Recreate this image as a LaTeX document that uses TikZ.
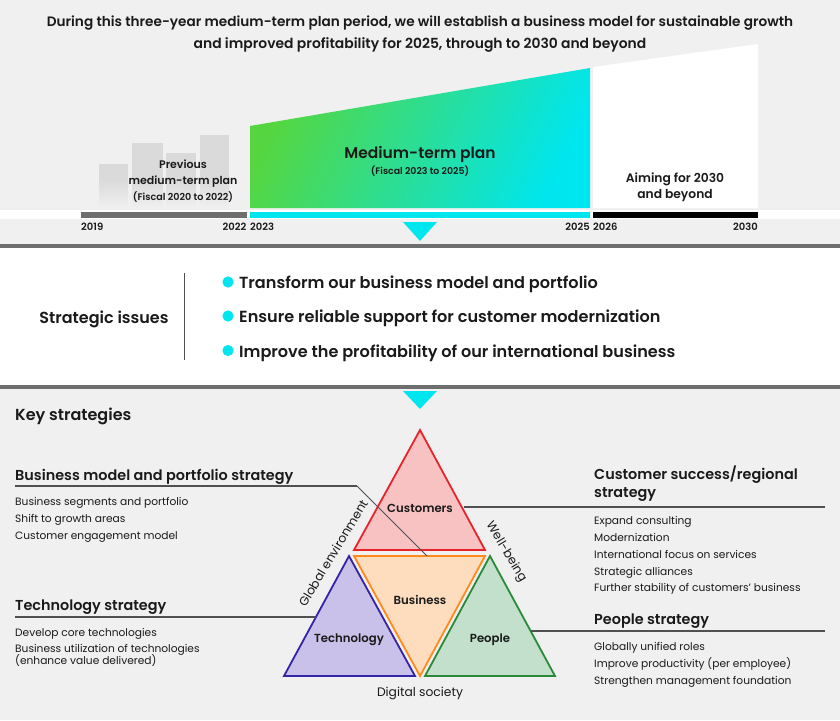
\documentclass[tikz,border=0pt]{standalone}
\usepackage{fontspec}
\setmainfont{Poppins}[BoldFont={Poppins SemiBold}]
\definecolor{bg}{HTML}{F0F0F0}
\definecolor{barg}{HTML}{DADADA}
\definecolor{mgreen}{HTML}{55D640}
\definecolor{mcyan}{HTML}{00E6EE}
\definecolor{dgray}{HTML}{6E6E6E}
\definecolor{lgray}{HTML}{505050}
\definecolor{custfill}{HTML}{F8C2C2}
\definecolor{custline}{HTML}{E8242A}
\definecolor{busfill}{HTML}{FDDDBE}
\definecolor{busline}{HTML}{FF8A1E}
\definecolor{techfill}{HTML}{C9C1EA}
\definecolor{techline}{HTML}{3424A8}
\definecolor{peopfill}{HTML}{C2E0CB}
\definecolor{peopline}{HTML}{2A8A3A}
\definecolor{txt}{HTML}{1A1A1A}
\begin{document}
\begin{tikzpicture}[x=1pt,y=-1pt,
  every node/.style={inner sep=0pt,text=txt},
  ttl/.style={font=\bfseries\fontsize{13.65}{16}\selectfont,anchor=base},
  lbl/.style={font=\bfseries\fontsize{12.3}{15}\selectfont,anchor=base},
  plbl/.style={font=\bfseries\fontsize{11}{13}\selectfont,anchor=base},
  trl/.style={font=\bfseries\fontsize{11.7}{14}\selectfont,anchor=base},
  yr/.style={font=\bfseries\fontsize{10}{12}\selectfont},
  issue/.style={font=\bfseries\fontsize{16.1}{19}\selectfont,anchor=base west},
  head/.style={font=\bfseries\fontsize{14.4}{17}\selectfont,anchor=base west},
  item/.style={font=\fontsize{10.65}{13}\selectfont,anchor=base west},
  tri/.style={line width=1.8pt,line join=miter},
  hline/.style={draw=lgray,line width=1.1pt},
  arrowtri/.style={fill=mcyan}]
\fill[bg] (0,0) rectangle (840,720);
\useasboundingbox (0,0) rectangle (840,720);

% title
\node[ttl] (t1) at (420,26) {During this three-year medium-term plan period, we will establish a business model for sustainable growth};
\node[ttl,font=\bfseries\fontsize{13.9}{16}\selectfont] (t2) at (420,48) {and improved profitability for 2025, through to 2030 and beyond};

% previous plan bars
\foreach \xa/\xb/\yt in {99/128/164, 132/163/143, 166/196/153, 200/229/135}{
  \fill[barg] (\xa,\yt) rectangle (\xb,180);
  \shade[top color=barg,bottom color=bg] (\xa,180) rectangle (\xb,208);
}
% gradient shape
\shade[left color=mgreen,right color=mcyan,shading angle=65]
  (250,208) -- (250,126) -- (590,68) -- (590,208) -- cycle;
% white shape
\fill[white] (593,208) -- (593,67) -- (758,44) -- (758,208) -- cycle;

% timeline
\fill[white] (0,210) rectangle (840,219);
\fill[dgray] (81,212) rectangle (246.5,218.3);
\fill[mcyan] (250,212) rectangle (590,218.3);
\fill[black] (593,212) rectangle (758,218.3);

\node[plbl] (p1) at (183,168.5) {Previous};
\node[plbl] (p2) at (183,184.5) {medium-term plan};
\node[font=\bfseries\fontsize{9.6}{11}\selectfont,anchor=base] (p3) at (183,200.5) {(Fiscal 2020 to 2022)};
\node[font=\bfseries\fontsize{15.5}{18}\selectfont,anchor=base] (m1) at (420,158.5) {Medium-term plan};
\node[font=\bfseries\fontsize{9.4}{11}\selectfont,anchor=base] (m2) at (420,174.5) {(Fiscal 2023 to 2025)};
\node[lbl] (a1) at (675,182.5) {Aiming for 2030};
\node[lbl] (a2) at (675,198.5) {and beyond};

\node[yr,anchor=base west] (y19) at (81,230.5) {2019};
\node[yr,anchor=base east] (y22) at (246.5,230.5) {2022};
\node[yr,anchor=base west] (y23) at (250,230.5) {2023};
\node[yr,anchor=base east] (y25) at (590,230.5) {2025};
\node[yr,anchor=base west] (y26) at (593,230.5) {2026};
\node[yr,anchor=base east] (y30) at (758,230.5) {2030};

% strategic issues band
\fill[white] (0,248) rectangle (840,385);
\fill[dgray] (0,244) rectangle (840,248);
\fill[dgray] (0,385) rectangle (840,389);
\fill[arrowtri] (403,222) -- (437,222) -- (420,241) -- cycle;
\fill[arrowtri] (403,391) -- (437,391) -- (420,409) -- cycle;

\node[font=\bfseries\fontsize{16}{19}\selectfont,anchor=base] (si) at (104,323.5) {Strategic issues};
\draw[lgray,line width=0.9pt] (184,273) -- (184,360);
\foreach \yy/\yb/\tx in {282/288.5/Transform our business model and portfolio,
                        316/322.5/Ensure reliable support for customer modernization,
                        350.5/357/Improve the profitability of our international business}{
  \fill[mcyan] (228,\yy) circle (5.6);
  \node[issue] at (239,\yb) {\tx};
}

% key strategies
\node[font=\bfseries\fontsize{16}{19}\selectfont,anchor=base west] (ks) at (15,420) {Key strategies};

% triangles
\coordinate (cA) at (420,430);
\coordinate (cL) at (354,550);
\coordinate (cR) at (485,550);
\coordinate (bL) at (354,556);
\coordinate (bR) at (485,556);
\coordinate (bB) at (420,676);
\coordinate (tA) at (349,556);
\coordinate (tL) at (284,676);
\coordinate (tR) at (415,676);
\coordinate (pA) at (490,556);
\coordinate (pL) at (425,676);
\coordinate (pR) at (555,676);
\filldraw[tri,fill=custfill,draw=custline] (cA) -- (cR) -- (cL) -- cycle;
\filldraw[tri,fill=busfill,draw=busline] (bL) -- (bR) -- (bB) -- cycle;
\filldraw[tri,fill=techfill,draw=techline] (tA) -- (tR) -- (tL) -- cycle;
\filldraw[tri,fill=peopfill,draw=peopline] (pA) -- (pR) -- (pL) -- cycle;

\node[trl] (cust) at (420,512.5) {Customers};
\node[trl] (bus) at (420,604.5) {Business};
\node[trl] (tech) at (349,642.5) {Technology};
\node[trl] (peop) at (490,642.5) {People};
\node[font=\fontsize{12.3}{15}\selectfont,anchor=base] (dig) at (420,696) {Digital society};
\node[font=\fontsize{12.3}{15}\selectfont,rotate=59] (glob) at (333,553) {Global environment};
\node[font=\fontsize{12.3}{15}\selectfont,rotate=-59] (well) at (506,552) {Well-being};

% left strategies
\node[head] (bmh) at (15,480) {Business model and portfolio strategy};
\coordinate (bmk) at (357,486);
\coordinate (bmt) at (427,556);
\draw[hline] (15,486) -- (bmk);
\draw[lgray,line width=0.8pt] (bmk) -- (bmt);
\node[item] at (15,505) {Business segments and portfolio};
\node[item] at (15,522) {Shift to growth areas};
\node[item] at (15,539) {Customer engagement model};

\node[head] (teh) at (15,610) {Technology strategy};
\coordinate (tek) at (316,617);
\draw[hline] (15,617) -- (tek);
\node[item] at (15,636) {Develop core technologies};
\node[item] at (15,652) {Business utilization of technologies};
\node[item] at (15,664) {(enhance value delivered)};

% right strategies
\node[head] (csh) at (594,479) {Customer success/regional};
\node[head] (csh2) at (594,497) {strategy};
\coordinate (csk) at (464,507);
\draw[hline] (csk) -- (825,507);
\node[item] at (594,524) {Expand consulting};
\node[item] at (594,541) {Modernization};
\node[item] at (594,558) {International focus on services};
\node[item] at (594,575) {Strategic alliances};
\node[item] at (594,591) {Further stability of customers’ business};

\node[head] (peh) at (594,624) {People strategy};
\coordinate (pek) at (531,631);
\draw[hline] (pek) -- (825,631);
\node[item] at (594,650) {Globally unified roles};
\node[item] at (594,667) {Improve productivity (per employee)};
\node[item] at (594,684) {Strengthen management foundation};
\end{tikzpicture}
\end{document}
